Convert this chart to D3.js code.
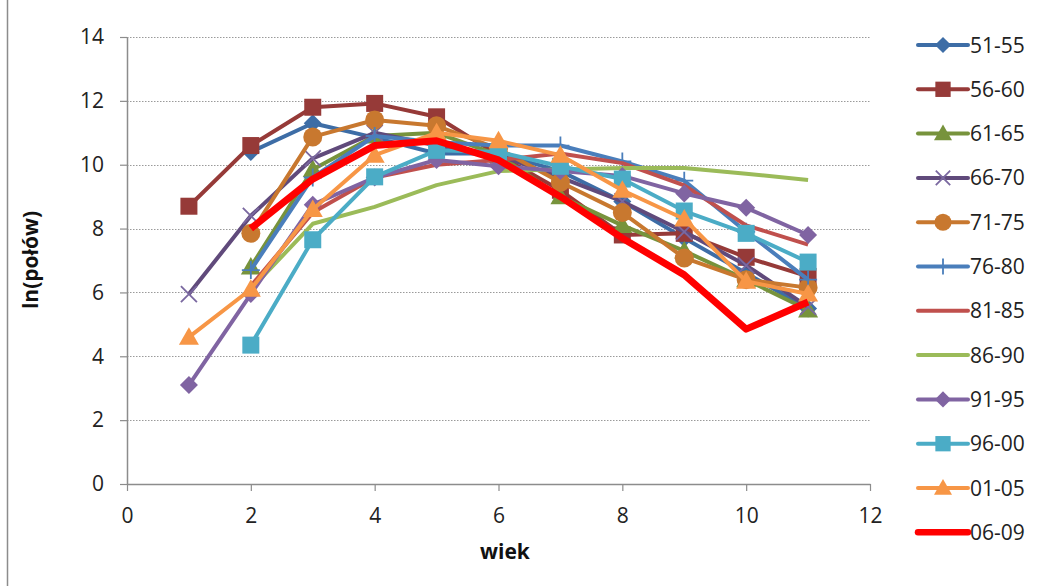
<!DOCTYPE html>
<html>
<head>
<meta charset="utf-8">
<script src="https://cdn.jsdelivr.net/npm/d3@7"></script>
<style>
  html, body { margin: 0; padding: 0; background: #fff; }
  svg { display: block; font-family: "Open Sans", "Noto Sans", sans-serif; }
</style>
</head>
<body>
<svg id="chart" width="1043" height="586"></svg>
<script>
// Age classes (wiek) on the x axis
const ages = [1, 2, 3, 4, 5, 6, 7, 8, 9, 10, 11];

// Period labels, in legend order
const periods = ["51-55", "56-60", "61-65", "66-70", "71-75", "76-80",
                 "81-85", "86-90", "91-95", "96-00", "01-05", "06-09"];

// ln(catch) per age; null where the cohort has no value
const s5155 = [null, 10.4, 11.3, 10.85, 10.35, 10.35, 9.8, 8.85, 7.7, 6.6, 5.5];
const s5660 = [8.7, 10.6, 11.8, 11.92, 11.5, 10.3, 9.2, 7.8, 7.85, 7.1, 6.5];
const s6165 = [null, 6.8, 9.85, 10.9, 11.0, 10.3, 9.0, 8.1, 7.3, 6.4, 5.45];
const s6670 = [5.95, 8.4, 10.2, 11.0, 10.6, 10.3, 9.6, 8.85, 7.9, 6.85, 5.55];
const s7175 = [null, 7.85, 10.87, 11.4, 11.22, 10.5, 9.45, 8.5, 7.08, 6.4, 6.15];
const s7680 = [null, 6.7, 9.6, 10.9, 10.7, 10.6, 10.6, 10.1, 9.5, 7.9, 6.4];
const s8185 = [null, 6.2, 8.5, 9.6, 10.0, 10.15, 10.35, 10.05, 9.35, 8.1, 7.5];
const s8690 = [null, 6.1, 8.15, 8.68, 9.36, 9.8, 9.85, 9.9, 9.9, 9.72, 9.52];
const s9195 = [3.1, 5.95, 8.75, 9.6, 10.15, 9.95, 9.8, 9.65, 9.1, 8.65, 7.8];
const s9600 = [null, 4.35, 7.65, 9.62, 10.45, 10.4, 9.95, 9.55, 8.55, 7.85, 6.95];
const s0105 = [4.6, 6.1, 8.6, 10.3, 11.0, 10.75, 10.3, 9.2, 8.3, 6.35, 5.95];
const s0609 = [null, 8.0, 9.55, 10.6, 10.75, 10.15, 9.0, 7.7, 6.55, 4.85, 5.7];

const seriesValues = [s5155, s5660, s6165, s6670, s7175, s7680,
                      s8185, s8690, s9195, s9600, s0105, s0609];

const xTicks = [0, 2, 4, 6, 8, 10, 12];
const yTicks = [0, 2, 4, 6, 8, 10, 12, 14];

// Drawing styles per series
const colors = ["#3D6DA6", "#963A38", "#77933C", "#604A7B", "#C8782F", "#4A7EBB",
                "#C0504D", "#9BBB59", "#8064A2", "#4BACC6", "#F79646", "#FF0000"];
const markers = ["diamond", "square", "triangle", "x", "circle", "plus",
                 null, null, "diamond", "square", "triangle", null];

const svg = d3.select("#chart");
const plot = { left: 127, right: 870, top: 37, bottom: 484 };

const x = d3.scaleLinear().domain([0, 12]).range([plot.left, plot.right]);
const y = d3.scaleLinear().domain([0, 14]).range([plot.bottom, plot.top]);

// Outer frame edge
svg.append("line").attr("x1", 7.5).attr("x2", 7.5).attr("y1", 0).attr("y2", 586)
  .attr("stroke", "#8c8c8c").attr("stroke-width", 1.5);

// Dotted horizontal gridlines
svg.append("g").selectAll("line").data(yTicks.filter(d => d > 0)).join("line")
  .attr("x1", plot.left).attr("x2", plot.right)
  .attr("y1", d => Math.round(y(d)) + 0.5).attr("y2", d => Math.round(y(d)) + 0.5)
  .attr("stroke", "#9a9a9a").attr("stroke-width", 1).attr("stroke-dasharray", "1.5,1.5");

// Axes
const yAxis = d3.axisLeft(y).tickValues(yTicks).tickSizeInner(7).tickSizeOuter(0).tickPadding(16);
const xAxis = d3.axisBottom(x).tickValues(xTicks).tickSizeInner(7).tickSizeOuter(0).tickPadding(17);

const gy = svg.append("g").attr("transform", `translate(${plot.left},0)`).call(yAxis);
const gx = svg.append("g").attr("transform", `translate(0,${plot.bottom})`).call(xAxis);
[gx, gy].forEach(g => {
  g.attr("font-size", null).attr("font-family", null);
  g.select(".domain").attr("stroke", "#8c8c8c").attr("stroke-width", 1.5);
  g.selectAll(".tick line").attr("stroke", "#8c8c8c").attr("stroke-width", 1.2);
  g.selectAll(".tick text").attr("fill", "#222").style("font-size", "21px")
    .style("font-family", "'Open Sans', sans-serif");
});

// Axis titles
svg.append("text").attr("x", 505).attr("y", 559).attr("text-anchor", "middle")
  .style("font-size", "21px").style("font-weight", "bold").attr("fill", "#111").text("wiek");
svg.append("text").attr("transform", "translate(38,260) rotate(-90)").attr("text-anchor", "middle")
  .style("font-size", "21px").style("font-weight", "bold").attr("fill", "#111").text("ln(połów)");

// Marker drawing helper
function drawMarker(g, type, color, cx, cy, scale = 1) {
  if (!type) return;
  const s = scale;
  if (type === "diamond") {
    const r = 9 * s;
    g.append("path").attr("d", `M${cx},${cy - r}L${cx + r},${cy}L${cx},${cy + r}L${cx - r},${cy}Z`)
      .attr("fill", color);
  } else if (type === "square") {
    const h = 8.5 * s;
    g.append("rect").attr("x", cx - h).attr("y", cy - h).attr("width", 2 * h).attr("height", 2 * h)
      .attr("fill", color);
  } else if (type === "triangle") {
    const r = 10 * s;
    g.append("path").attr("d", `M${cx},${cy - r}L${cx + r},${cy + r * 0.75}L${cx - r},${cy + r * 0.75}Z`)
      .attr("fill", color);
  } else if (type === "circle") {
    g.append("circle").attr("cx", cx).attr("cy", cy).attr("r", 9.5 * s).attr("fill", color);
  } else if (type === "x") {
    const r = 8 * s;
    g.append("path").attr("d", `M${cx - r},${cy - r}L${cx + r},${cy + r}M${cx - r},${cy + r}L${cx + r},${cy - r}`)
      .attr("stroke", "#7a68a0").attr("stroke-width", 1.8).attr("fill", "none");
  } else if (type === "plus") {
    const r = 9 * s;
    g.append("path").attr("d", `M${cx - r},${cy}L${cx + r},${cy}M${cx},${cy - r}L${cx},${cy + r}`)
      .attr("stroke", color).attr("stroke-width", 1.8).attr("fill", "none");
  }
}

const line = d3.line()
  .defined(d => d.v !== null)
  .x(d => x(d.age))
  .y(d => y(d.v));

const seriesG = svg.append("g");
periods.forEach((name, i) => {
  const pts = ages.map((a, j) => ({ age: a, v: seriesValues[i][j] }));
  const g = seriesG.append("g");
  const last = i === periods.length - 1;
  g.append("path").datum(pts)
    .attr("d", line)
    .attr("fill", "none")
    .attr("stroke", colors[i])
    .attr("stroke-width", last ? 7 : 4)
    .attr("stroke-linejoin", "round");
  pts.filter(d => d.v !== null).forEach(d => drawMarker(g, markers[i], colors[i], x(d.age), y(d.v)));
});

// Legend
const legend = svg.append("g");
periods.forEach((name, i) => {
  const ly = 45 + i * 44.3;
  const g = legend.append("g");
  g.append("line").attr("x1", 918).attr("x2", 968).attr("y1", ly).attr("y2", ly)
    .attr("stroke", colors[i]).attr("stroke-width", i === periods.length - 1 ? 6.5 : 4)
    .attr("stroke-linecap", "round");
  drawMarker(g, markers[i], colors[i], 943, ly, 0.9);
  g.append("text").attr("x", 970).attr("y", ly).attr("dy", "0.36em")
    .style("font-size", "21px").attr("fill", "#222").text(name);
});
</script>
</body>
</html>
